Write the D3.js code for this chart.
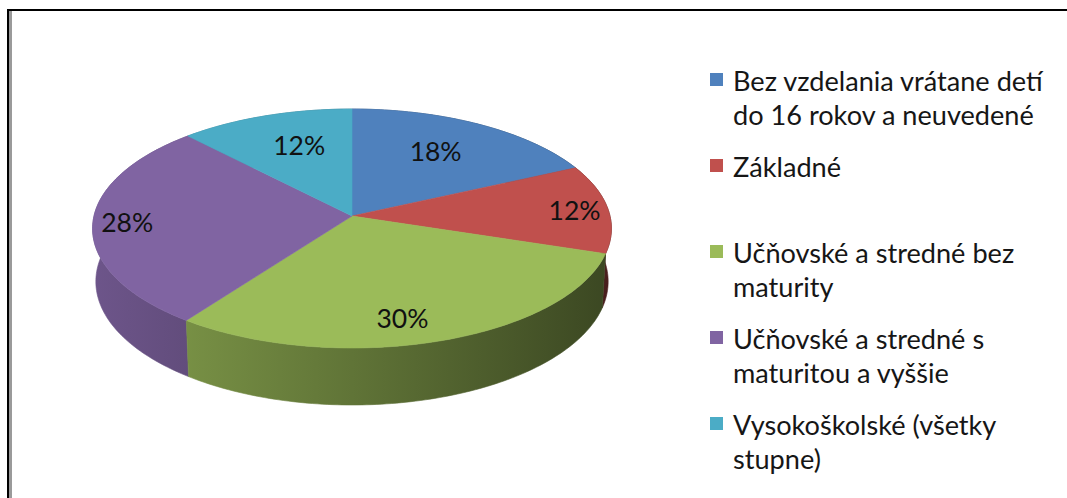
<!DOCTYPE html>
<html>
<head>
<meta charset="utf-8">
<script src="https://d3js.org/d3.v7.min.js"></script>
<style>
  body { margin: 0; background: #fff; }
  svg { display: block; font-family: Lato, "Open Sans", sans-serif; }
</style>
</head>
<body>
<svg width="1067" height="498"></svg>
<script>
// data
const categories = [
  'Bez vzdelania vrátane detí\ndo 16 rokov a neuvedené',
  'Základné',
  'Učňovské a stredné bez\nmaturity',
  'Učňovské a stredné s\nmaturitou a vyššie',
  'Vysokoškolské (všetky\nstupne)'
];
const shares = [18, 12, 30, 28, 12];
const colors = ['#4F81BD', '#C0504D', '#9BBB59', '#8064A2', '#4BACC6'];

const svg = d3.select('svg');

// chart frame (cut by the page on the right and bottom)
svg.append('rect')
  .attr('x', 8).attr('y', 10)
  .attr('width', 1100).attr('height', 600)
  .attr('fill', 'none').attr('stroke', '#000').attr('stroke-width', 2);
svg.append('line')
  .attr('x1', 10.5).attr('x2', 10.5).attr('y1', 11).attr('y2', 498)
  .attr('stroke', '#9a9a9a').attr('stroke-width', 3);

// 3d pie projection
const cx = 352, cy = 216, R = 258;
const sinA = 0.458, cosA = Math.sqrt(1 - sinA * sinA);
const D = 8.5;      // camera distance, in radii
const H = 0.233;    // pie thickness, in radii

function projUV(u, v, h) {
  const z = v * cosA + h * sinA;
  const k = D / (D - z);
  return [cx + R * u * k, cy + R * (v * sinA - h * cosA) * k];
}
const proj = (theta, r, h) => projUV(r * Math.sin(theta), -r * Math.cos(theta), h);

const arcs = d3.pie().sort(null).value(d => d)(shares);
const line = d3.line();
const step = Math.PI / 180;

function rim(a0, a1, h) {
  const n = Math.max(2, Math.ceil((a1 - a0) / step));
  return d3.range(n + 1).map(i => proj(a0 + (a1 - a0) * i / n, 1, h));
}

// side shading, light on the left, dark on the right
const defs = svg.append('defs');
colors.forEach((c, i) => {
  const g = defs.append('linearGradient')
    .attr('id', 'side' + i)
    .attr('gradientUnits', 'userSpaceOnUse')
    .attr('x1', cx - R).attr('x2', cx + R).attr('y1', 0).attr('y2', 0);
  [[0, 0.85], [0.5, 0.62], [1, 0.38]].forEach(([o, f]) => {
    const col = d3.rgb(c);
    g.append('stop').attr('offset', o)
      .attr('stop-color', d3.rgb(col.r * f, col.g * f, col.b * f).formatHex());
  });
});

const sideOrder = arcs.map((a, i) => i)
  .sort((a, b) => -Math.cos((arcs[a].startAngle + arcs[a].endAngle) / 2) +
                   Math.cos((arcs[b].startAngle + arcs[b].endAngle) / 2));

svg.append('g').selectAll('path')
  .data(sideOrder)
  .join('path')
  .attr('d', i => {
    const a = arcs[i];
    const top = rim(a.startAngle, a.endAngle, 0);
    const bot = rim(a.startAngle, a.endAngle, -H).reverse();
    return line(top.concat(bot)) + 'Z';
  })
  .attr('fill', i => `url(#side${i})`)
  .attr('stroke', i => `url(#side${i})`)
  .attr('stroke-width', 0.6);

svg.append('g').selectAll('path')
  .data(arcs)
  .join('path')
  .attr('d', a => line([[cx, cy]].concat(rim(a.startAngle, a.endAngle, 0))) + 'Z')
  .attr('fill', (a, i) => colors[i])
  .attr('stroke', (a, i) => colors[i])
  .attr('stroke-width', 0.6);

// data labels: pushed further out toward the sides and the front
function labelPos(a) {
  const m = (a.startAngle + a.endAngle) / 2;
  const u = Math.sin(m), v = -Math.cos(m);
  return projUV(u * (0.55 + 0.32 * u * u), v * (0.76 + 0.08 * v), 0);
}
const labels = svg.append('g').selectAll('text')
  .data(arcs)
  .join('text')
  .attr('x', a => labelPos(a)[0])
  .attr('y', a => labelPos(a)[1])
  .attr('text-anchor', 'middle')
  .attr('dominant-baseline', 'central')
  .attr('fill', '#111')
  .attr('font-size', 22)
  .text(a => a.value + '%');
{
  const w = labels.nodes()[2].getComputedTextLength();
  labels.attr('font-size', 22 * 52 / w);
}

// legend
const legend = svg.append('g').attr('transform', 'translate(710, 80)');
const entries = legend.selectAll('g')
  .data(categories)
  .join('g')
  .attr('transform', (d, i) => `translate(0, ${i * 86})`);

entries.append('rect')
  .attr('x', 0).attr('y', -7)
  .attr('width', 13).attr('height', 13)
  .attr('fill', (d, i) => colors[i]);

const ltext = entries.append('text')
  .attr('x', 23)
  .attr('fill', '#161616')
  .attr('font-size', 24);
ltext.selectAll('tspan')
  .data(d => d.split('\n'))
  .join('tspan')
  .attr('x', 23)
  .attr('y', (d, j) => j * 34)
  .attr('dominant-baseline', 'central')
  .text(d => d);
{
  const w = ltext.select('tspan').node().getComputedTextLength();
  ltext.attr('font-size', 24 * 310 / w);
}
</script>
</body>
</html>
